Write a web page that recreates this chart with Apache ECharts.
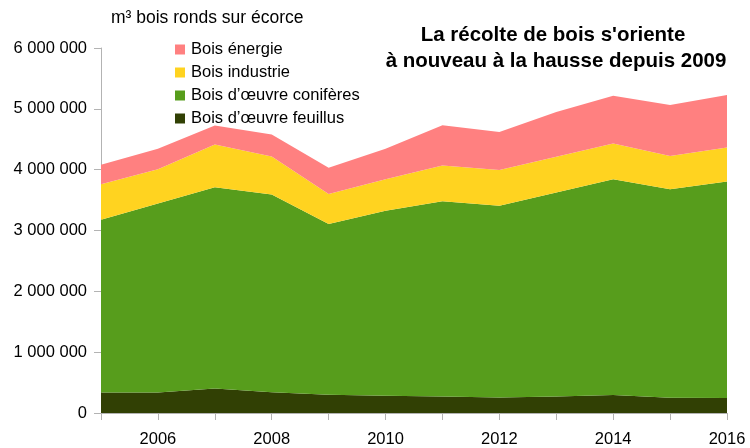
<!DOCTYPE html>
<html>
<head>
<meta charset="utf-8">
<script src="https://cdn.jsdelivr.net/npm/echarts@6/dist/echarts.min.js"></script>
<style>
  html, body { margin: 0; padding: 0; background: #fff; }
  #chart { width: 750px; height: 448px; }
</style>
</head>
<body>
<div id="chart"></div>
<script>
// années et volumes récoltés (m³ bois ronds sur écorce)
var annees = ['2005', '2006', '2007', '2008', '2009', '2010', '2011', '2012', '2013', '2014', '2015', '2016'];
var feuillus = [338000, 338000, 404000, 343000, 300000, 283000, 272000, 256000, 272000, 294000, 250000, 245000];
var coniferes = [2838000, 3106000, 3307000, 3247000, 2806000, 3041000, 3208000, 3149000, 3352000, 3548000, 3428000, 3559000];
var industrie = [584000, 561000, 703000, 628000, 494000, 518000, 590000, 589000, 589000, 588000, 545000, 561000];
var energie = [320000, 338000, 310000, 359000, 433000, 501000, 660000, 626000, 735000, 785000, 840000, 861000];

var police = 'Liberation Sans, Arial, sans-serif';

function serie(nom, data, couleur) {
  return {
    name: nom,
    type: 'line',
    stack: 'total',
    data: data,
    symbol: 'none',
    lineStyle: { width: 0 },
    areaStyle: { color: couleur, opacity: 1 },
    itemStyle: { color: couleur }
  };
}

var myChart = echarts.init(document.getElementById('chart'));

var option = {
  animation: false,
  textStyle: { fontFamily: police },
  grid: { left: 101, right: 23, top: 48, bottom: 33 },
  graphic: [
    { type: 'text', left: 111, top: 9,
      style: { text: 'm³ bois ronds sur écorce', font: '17.5px ' + police, fill: '#000' } },
    { type: 'text', x: 553, y: 35,
      style: { text: "La récolte de bois s'oriente", font: 'bold 20.5px ' + police, fill: '#000', align: 'center', verticalAlign: 'middle' } },
    { type: 'text', x: 556, y: 61,
      style: { text: 'à nouveau à la hausse depuis 2009', font: 'bold 20.5px ' + police, fill: '#000', align: 'center', verticalAlign: 'middle' } }
  ],
  legend: {
    orient: 'vertical',
    left: 170,
    top: 36,
    itemWidth: 10,
    itemHeight: 10,
    itemGap: 6,
    icon: 'rect',
    data: ['Bois énergie', 'Bois industrie', 'Bois d’œuvre conifères', 'Bois d’œuvre feuillus'],
    textStyle: { fontSize: 16.5, color: '#000', fontFamily: police, lineHeight: 16, padding: [0, 0, 0, 1] }
  },
  xAxis: {
    type: 'category',
    boundaryGap: false,
    data: annees,
    axisLine: { lineStyle: { color: '#b3b3b3', width: 1 } },
    axisTick: { show: true, length: 7, interval: 0, lineStyle: { color: '#b3b3b3' } },
    axisLabel: {
      interval: function (i) { return i % 2 === 1; },
      margin: 18,
      fontSize: 16.5,
      color: '#000',
      fontFamily: police
    },
    splitLine: { show: false }
  },
  yAxis: {
    type: 'value',
    min: 0,
    max: 6000000,
    interval: 1000000,
    axisLine: { show: true, lineStyle: { color: '#b3b3b3', width: 1 } },
    axisTick: { show: true, length: 7, lineStyle: { color: '#b3b3b3' } },
    axisLabel: {
      margin: 14,
      fontSize: 16.5,
      color: '#000',
      fontFamily: police,
      formatter: function (v) { return String(v).replace(/\B(?=(\d{3})+(?!\d))/g, ' '); }
    },
    splitLine: { show: false }
  },
  series: [
    serie('Bois d’œuvre feuillus', feuillus, '#314004'),
    serie('Bois d’œuvre conifères', coniferes, '#579d1c'),
    serie('Bois industrie', industrie, '#ffd320'),
    serie('Bois énergie', energie, '#ff8080')
  ]
};

myChart.setOption(option);
</script>
</body>
</html>
